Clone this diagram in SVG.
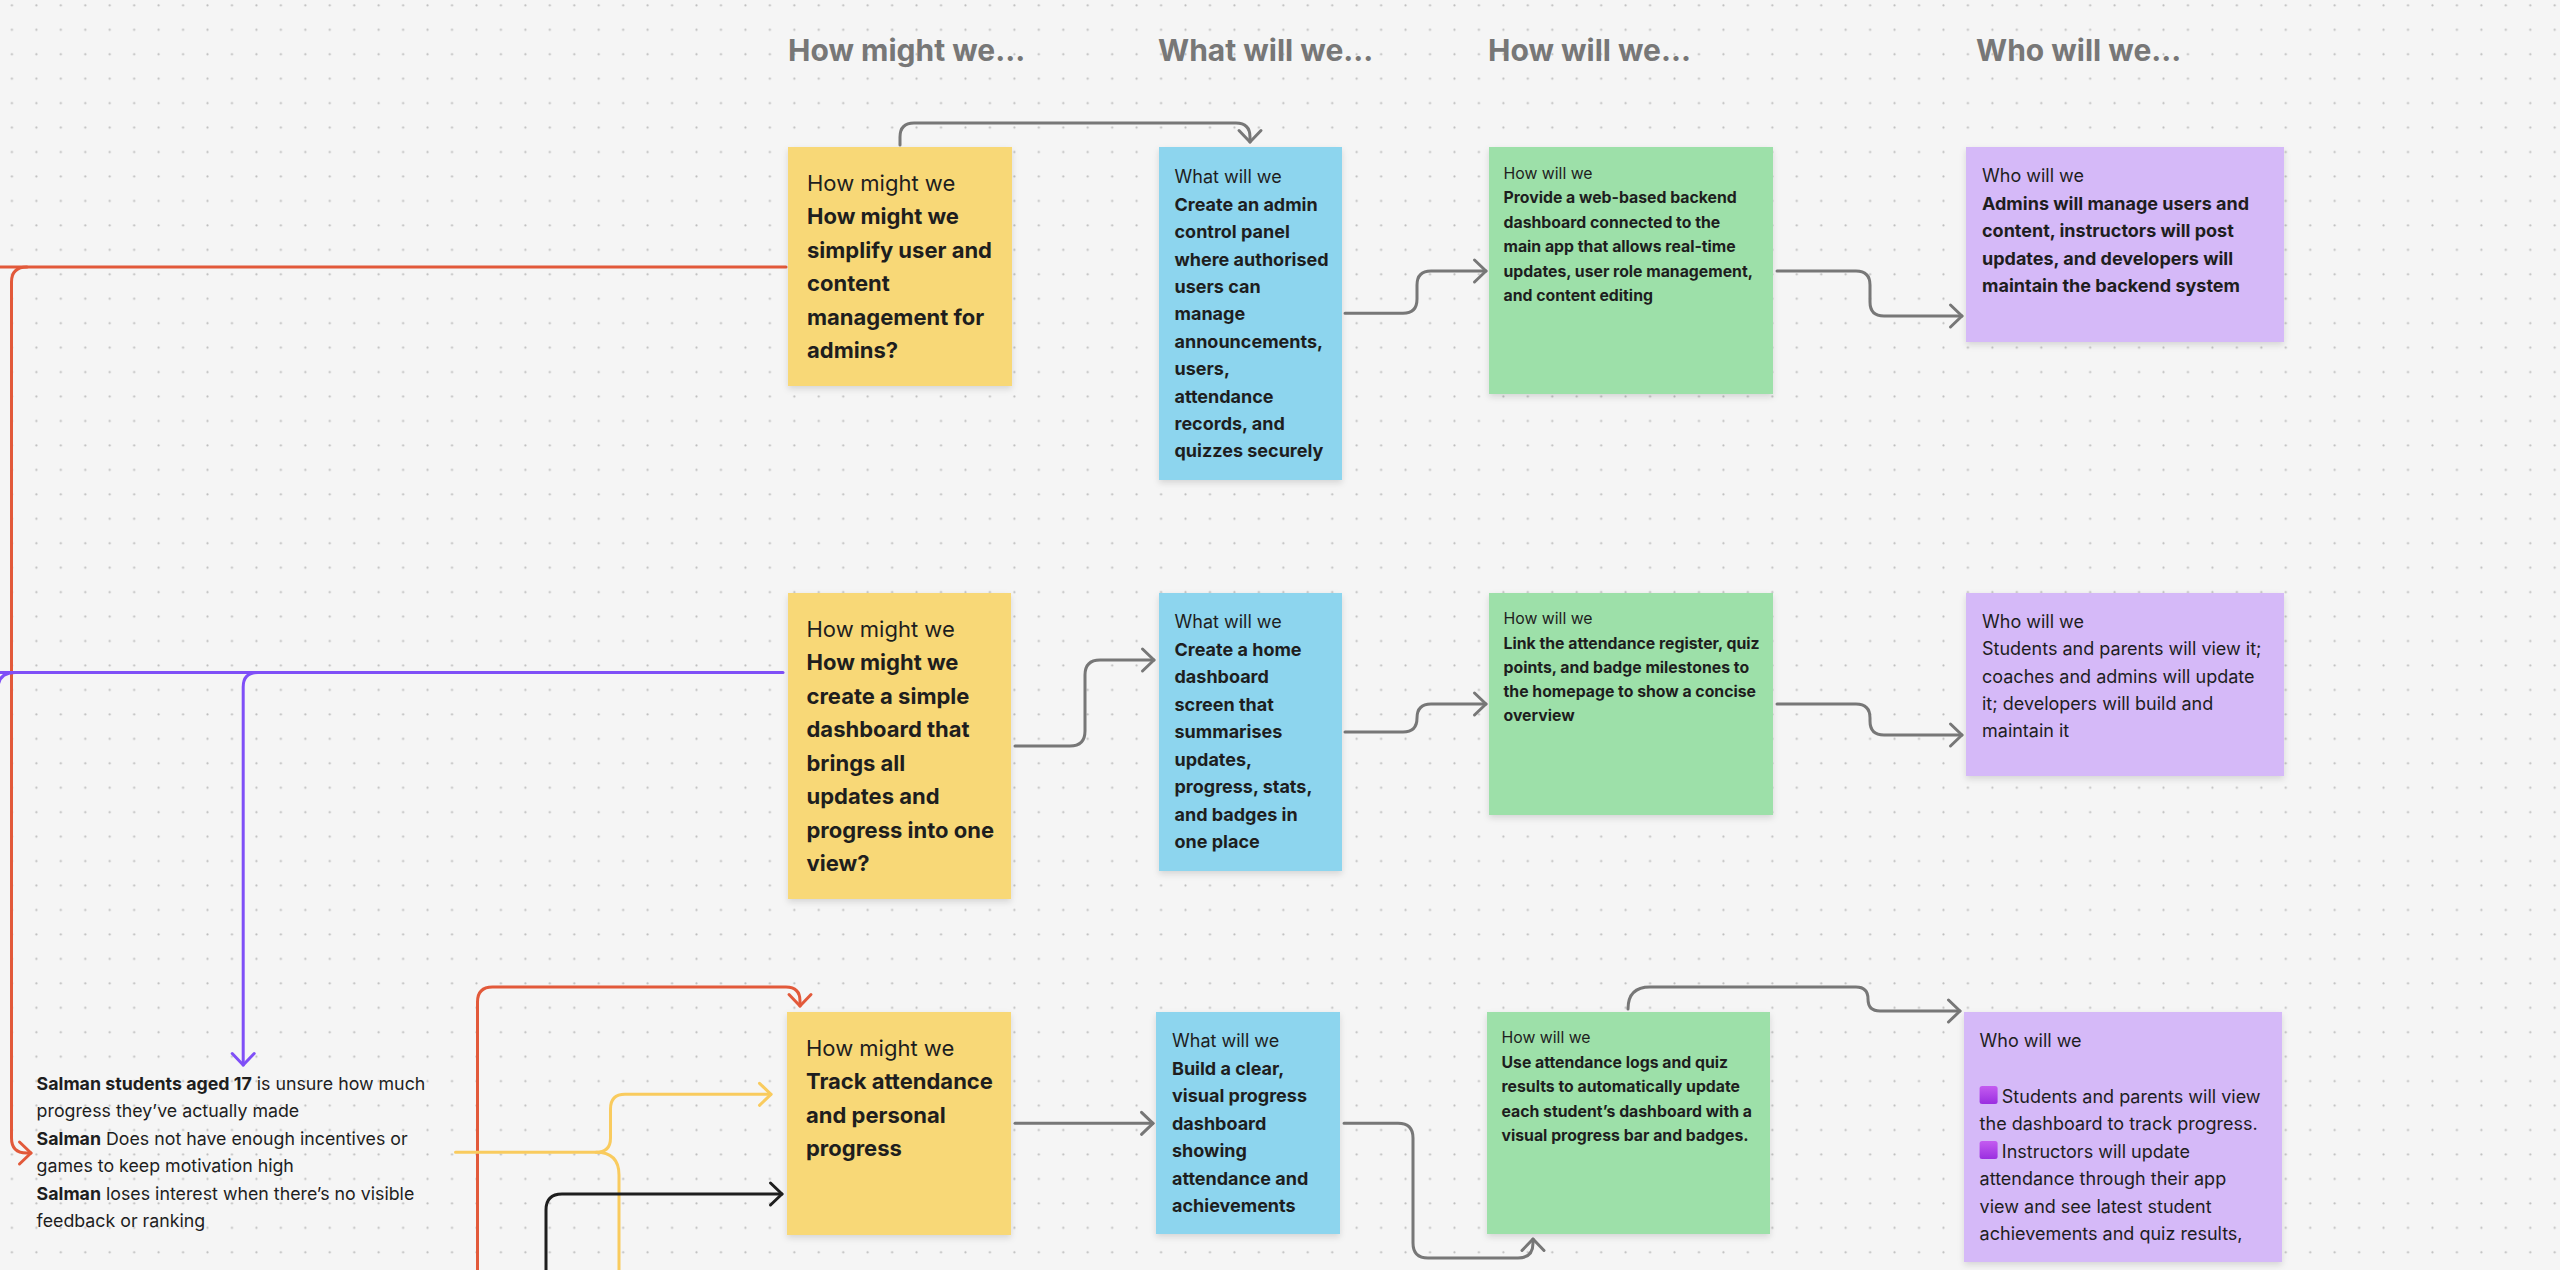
<svg xmlns="http://www.w3.org/2000/svg" width="2560" height="1270" viewBox="0 0 2560 1270">
<style>
  .hdr{font-family:Inter,"Noto Sans",sans-serif;font-weight:700;font-size:30px;fill:#777777}
  .t{font-family:Inter,"Noto Sans",sans-serif;fill:#1e1e1e}
  .b{font-weight:700}
  .y22{font-size:22px}
  .s18{font-size:18px}
  .s15{font-size:15.8px}
  .s17{font-size:17.8px}
  .yel{fill:#F8D877}
  .blu{fill:#8DD5EE}
  .grn{fill:#9DE0A9}
  .pur{fill:#D5B9F8}
  .c{fill:none;stroke-width:3;stroke-linecap:round;stroke-linejoin:round}
  .grey{stroke:#777777}
  .red{stroke:#E2593A}
  .vio{stroke:#7F4FF7}
  .ylw{stroke:#F9CB5E}
  .blk{stroke:#1e1e1e}
</style>
<defs>
  <pattern id="dots" patternUnits="userSpaceOnUse" x="-0.3" y="-6.8" width="24.45" height="24.45">
    <circle cx="12.2" cy="12.2" r="1.1" fill="#bdbdbd"/>
  </pattern>
  <filter id="sh" x="-10%" y="-10%" width="120%" height="125%">
    <feDropShadow dx="0" dy="3" stdDeviation="3" flood-color="#000" flood-opacity="0.13"/>
  </filter>
  <linearGradient id="emo" x1="0" y1="0" x2="0" y2="1">
    <stop offset="0" stop-color="#C45CF0"/>
    <stop offset="1" stop-color="#9A2FE0"/>
  </linearGradient>
  <marker id="aGrey" markerUnits="userSpaceOnUse" markerWidth="30" markerHeight="30" refX="15" refY="15" orient="auto" overflow="visible">
    <path d="M3.5 4 L15 15 L3.5 26" fill="none" stroke="#777777" stroke-width="3" stroke-linecap="round" stroke-linejoin="round"/>
  </marker>
  <marker id="aRed" markerUnits="userSpaceOnUse" markerWidth="30" markerHeight="30" refX="15" refY="15" orient="auto" overflow="visible">
    <path d="M3.5 4 L15 15 L3.5 26" fill="none" stroke="#E2593A" stroke-width="3" stroke-linecap="round" stroke-linejoin="round"/>
  </marker>
  <marker id="aVio" markerUnits="userSpaceOnUse" markerWidth="30" markerHeight="30" refX="15" refY="15" orient="auto" overflow="visible">
    <path d="M3.5 4 L15 15 L3.5 26" fill="none" stroke="#7F4FF7" stroke-width="3" stroke-linecap="round" stroke-linejoin="round"/>
  </marker>
  <marker id="aYlw" markerUnits="userSpaceOnUse" markerWidth="30" markerHeight="30" refX="15" refY="15" orient="auto" overflow="visible">
    <path d="M3.5 4 L15 15 L3.5 26" fill="none" stroke="#F9CB5E" stroke-width="3" stroke-linecap="round" stroke-linejoin="round"/>
  </marker>
  <marker id="aBlk" markerUnits="userSpaceOnUse" markerWidth="30" markerHeight="30" refX="15" refY="15" orient="auto" overflow="visible">
    <path d="M3.5 4 L15 15 L3.5 26" fill="none" stroke="#1e1e1e" stroke-width="3" stroke-linecap="round" stroke-linejoin="round"/>
  </marker>
</defs>

<rect width="2560" height="1270" fill="#F5F5F5"/>
<rect width="2560" height="1270" fill="url(#dots)"/>

<g id="headers">
  <text class="hdr" x="788" y="61">How might we...</text>
  <text class="hdr" x="1158" y="61">What will we...</text>
  <text class="hdr" x="1488" y="61">How will we...</text>
  <text class="hdr" x="1976" y="61">Who will we...</text>
</g>

<g id="connectors">
  <!-- red -->
  <path class="c red" d="M0 267 H786"/>
  <path class="c red" d="M27 267 Q11.5 267 11.5 282 V1138 Q11.5 1153 26.5 1153 H31" marker-end="url(#aRed)"/>
  <path class="c red" d="M477.5 1275 V1002 Q477.5 987 492.5 987 H786 Q800 987 800 1001 V1006" marker-end="url(#aRed)"/>
  <!-- violet -->
  <path class="c vio" d="M0 672.5 H783"/>
  <path class="c vio" d="M15 672.5 Q-2 672.5 -2 689 V1300"/>
  <path class="c vio" d="M258 672.5 Q243.2 672.5 243.2 687 V1065" marker-end="url(#aVio)"/>
  <!-- yellow -->
  <path class="c ylw" d="M455.5 1152.3 H596 Q610.5 1152.3 610.5 1138 V1109 Q610.5 1094.3 625 1094.3 H771" marker-end="url(#aYlw)"/>
  <path class="c ylw" d="M596 1152.3 Q619 1152.3 619 1175 V1275"/>
  <!-- black -->
  <path class="c blk" d="M546 1275 V1210 Q546 1194 562 1194 H782" marker-end="url(#aBlk)"/>
  <!-- grey -->
  <path class="c grey" d="M900 145 V137 Q900 123 914 123 H1236 Q1250 123 1250 137 V142" marker-end="url(#aGrey)"/>
  <path class="c grey" d="M1345 313.3 H1403 Q1417 313.3 1417 299 V285 Q1417 271 1431 271 H1486" marker-end="url(#aGrey)"/>
  <path class="c grey" d="M1777 271 H1856 Q1870 271 1870 285 V302 Q1870 316 1884 316 H1962" marker-end="url(#aGrey)"/>
  <path class="c grey" d="M1015 746 H1070 Q1085 746 1085 731 V675 Q1085 660 1100 660 H1154" marker-end="url(#aGrey)"/>
  <path class="c grey" d="M1345 732 H1403 Q1417 732 1417 718 Q1417 704 1431 704 H1486" marker-end="url(#aGrey)"/>
  <path class="c grey" d="M1777 704 H1856 Q1870 704 1870 718 V721 Q1870 735 1884 735 H1962" marker-end="url(#aGrey)"/>
  <path class="c grey" d="M1015 1123.3 H1153" marker-end="url(#aGrey)"/>
  <path class="c grey" d="M1344 1123.3 H1398 Q1413 1123.3 1413 1138 V1243 Q1413 1258 1428 1258 H1518 Q1533 1258 1533 1243 V1239" marker-end="url(#aGrey)"/>
  <path class="c grey" d="M1628 1009 Q1628 987 1650 987 H1856 Q1868 987 1868 999 Q1868 1011 1880 1011 H1960" marker-end="url(#aGrey)"/>
</g>

<g id="persona">
  <text class="t s17">
    <tspan x="36.6" y="1090"><tspan class="b">Salman students aged 17</tspan> is unsure how much</tspan>
    <tspan x="36.6" y="1117.4">progress they’ve actually made</tspan>
    <tspan x="36.6" y="1144.8"><tspan class="b">Salman</tspan> Does not have enough incentives or</tspan>
    <tspan x="36.6" y="1172.2">games to keep motivation high</tspan>
    <tspan x="36.6" y="1199.6"><tspan class="b">Salman</tspan> loses interest when there’s no visible</tspan>
    <tspan x="36.6" y="1227">feedback or ranking</tspan>
  </text>
</g>

<!-- Row 1 -->
<g id="hmw1">
  <rect class="yel" x="788" y="147" width="224" height="239" filter="url(#sh)"/>
  <text class="t y22">
    <tspan x="807" y="191">How might we</tspan>
    <tspan class="b" x="807" y="224.4">How might we</tspan>
    <tspan class="b" x="807" y="257.8">simplify user and</tspan>
    <tspan class="b" x="807" y="291.2">content</tspan>
    <tspan class="b" x="807" y="324.6">management for</tspan>
    <tspan class="b" x="807" y="358">admins?</tspan>
  </text>
</g>
<g id="www1">
  <rect class="blu" x="1159" y="147" width="183" height="333" filter="url(#sh)"/>
  <text class="t s18">
    <tspan x="1174.5" y="183.3">What will we</tspan>
    <tspan class="b" x="1174.5" y="210.7">Create an admin</tspan>
    <tspan class="b" x="1174.5" y="238.1">control panel</tspan>
    <tspan class="b" x="1174.5" y="265.5">where authorised</tspan>
    <tspan class="b" x="1174.5" y="292.9">users can</tspan>
    <tspan class="b" x="1174.5" y="320.3">manage</tspan>
    <tspan class="b" x="1174.5" y="347.7">announcements,</tspan>
    <tspan class="b" x="1174.5" y="375.1">users,</tspan>
    <tspan class="b" x="1174.5" y="402.5">attendance</tspan>
    <tspan class="b" x="1174.5" y="429.9">records, and</tspan>
    <tspan class="b" x="1174.5" y="457.3">quizzes securely</tspan>
  </text>
</g>
<g id="hww1">
  <rect class="grn" x="1489" y="147" width="284" height="247" filter="url(#sh)"/>
  <text class="t s15">
    <tspan x="1503.5" y="179">How will we</tspan>
    <tspan class="b" x="1503.5" y="203.4">Provide a web-based backend</tspan>
    <tspan class="b" x="1503.5" y="227.8">dashboard connected to the</tspan>
    <tspan class="b" x="1503.5" y="252.2">main app that allows real-time</tspan>
    <tspan class="b" x="1503.5" y="276.6">updates, user role management,</tspan>
    <tspan class="b" x="1503.5" y="301">and content editing</tspan>
  </text>
</g>
<g id="wwho1">
  <rect class="pur" x="1966" y="147" width="318" height="195" filter="url(#sh)"/>
  <text class="t s18">
    <tspan x="1982" y="182.3">Who will we</tspan>
    <tspan class="b" x="1982" y="209.8">Admins will manage users and</tspan>
    <tspan class="b" x="1982" y="237.3">content, instructors will post</tspan>
    <tspan class="b" x="1982" y="264.8">updates, and developers will</tspan>
    <tspan class="b" x="1982" y="292.3">maintain the backend system</tspan>
  </text>
</g>

<!-- Row 2 -->
<g id="hmw2">
  <rect class="yel" x="788" y="593" width="223" height="306" filter="url(#sh)"/>
  <text class="t y22">
    <tspan x="806.5" y="636.7">How might we</tspan>
    <tspan class="b" x="806.5" y="670.2">How might we</tspan>
    <tspan class="b" x="806.5" y="703.7">create a simple</tspan>
    <tspan class="b" x="806.5" y="737.2">dashboard that</tspan>
    <tspan class="b" x="806.5" y="770.7">brings all</tspan>
    <tspan class="b" x="806.5" y="804.2">updates and</tspan>
    <tspan class="b" x="806.5" y="837.7">progress into one</tspan>
    <tspan class="b" x="806.5" y="871.2">view?</tspan>
  </text>
</g>
<g id="www2">
  <rect class="blu" x="1159" y="593" width="183" height="278" filter="url(#sh)"/>
  <text class="t s18">
    <tspan x="1174.5" y="628.3">What will we</tspan>
    <tspan class="b" x="1174.5" y="655.8">Create a home</tspan>
    <tspan class="b" x="1174.5" y="683.3">dashboard</tspan>
    <tspan class="b" x="1174.5" y="710.8">screen that</tspan>
    <tspan class="b" x="1174.5" y="738.3">summarises</tspan>
    <tspan class="b" x="1174.5" y="765.8">updates,</tspan>
    <tspan class="b" x="1174.5" y="793.3">progress, stats,</tspan>
    <tspan class="b" x="1174.5" y="820.8">and badges in</tspan>
    <tspan class="b" x="1174.5" y="848.3">one place</tspan>
  </text>
</g>
<g id="hww2">
  <rect class="grn" x="1489" y="593" width="284" height="222" filter="url(#sh)"/>
  <text class="t s15">
    <tspan x="1503.5" y="624.3">How will we</tspan>
    <tspan class="b" x="1503.5" y="648.5">Link the attendance register, quiz</tspan>
    <tspan class="b" x="1503.5" y="672.7">points, and badge milestones to</tspan>
    <tspan class="b" x="1503.5" y="696.9">the homepage to show a concise</tspan>
    <tspan class="b" x="1503.5" y="721.1">overview</tspan>
  </text>
</g>
<g id="wwho2">
  <rect class="pur" x="1966" y="593" width="318" height="183" filter="url(#sh)"/>
  <text class="t s18">
    <tspan x="1982" y="627.7">Who will we</tspan>
    <tspan x="1982" y="655.1">Students and parents will view it;</tspan>
    <tspan x="1982" y="682.5">coaches and admins will update</tspan>
    <tspan x="1982" y="709.9">it; developers will build and</tspan>
    <tspan x="1982" y="737.3">maintain it</tspan>
  </text>
</g>

<!-- Row 3 -->
<g id="hmw3">
  <rect class="yel" x="787" y="1012" width="224" height="223" filter="url(#sh)"/>
  <text class="t y22">
    <tspan x="806" y="1056">How might we</tspan>
    <tspan class="b" x="806" y="1089.4">Track attendance</tspan>
    <tspan class="b" x="806" y="1122.8">and personal</tspan>
    <tspan class="b" x="806" y="1156.2">progress</tspan>
  </text>
</g>
<g id="www3">
  <rect class="blu" x="1156" y="1012" width="184" height="222" filter="url(#sh)"/>
  <text class="t s18">
    <tspan x="1172" y="1047.3">What will we</tspan>
    <tspan class="b" x="1172" y="1074.8">Build a clear,</tspan>
    <tspan class="b" x="1172" y="1102.3">visual progress</tspan>
    <tspan class="b" x="1172" y="1129.8">dashboard</tspan>
    <tspan class="b" x="1172" y="1157.3">showing</tspan>
    <tspan class="b" x="1172" y="1184.8">attendance and</tspan>
    <tspan class="b" x="1172" y="1212.3">achievements</tspan>
  </text>
</g>
<g id="hww3">
  <rect class="grn" x="1487" y="1012" width="283" height="222" filter="url(#sh)"/>
  <text class="t s15">
    <tspan x="1501.5" y="1043.3">How will we</tspan>
    <tspan class="b" x="1501.5" y="1067.7">Use attendance logs and quiz</tspan>
    <tspan class="b" x="1501.5" y="1092.1">results to automatically update</tspan>
    <tspan class="b" x="1501.5" y="1116.5">each student’s dashboard with a</tspan>
    <tspan class="b" x="1501.5" y="1140.9">visual progress bar and badges.</tspan>
  </text>
</g>
<g id="wwho3">
  <rect class="pur" x="1964" y="1012" width="318" height="250" filter="url(#sh)"/>
  <rect x="1979.6" y="1086" width="18" height="18" rx="2.5" fill="url(#emo)"/>
  <rect x="1979.6" y="1141" width="18" height="18" rx="2.5" fill="url(#emo)"/>
  <text class="t s18">
    <tspan x="1979.6" y="1047.3">Who will we</tspan>
    <tspan x="2001.8" y="1102.7">Students and parents will view</tspan>
    <tspan x="1979.6" y="1130.2">the dashboard to track progress.</tspan>
    <tspan x="2001.8" y="1157.7">Instructors will update</tspan>
    <tspan x="1979.6" y="1185.2">attendance through their app</tspan>
    <tspan x="1979.6" y="1212.7">view and see latest student</tspan>
    <tspan x="1979.6" y="1240.2">achievements and quiz results,</tspan>
  </text>
</g>
</svg>
